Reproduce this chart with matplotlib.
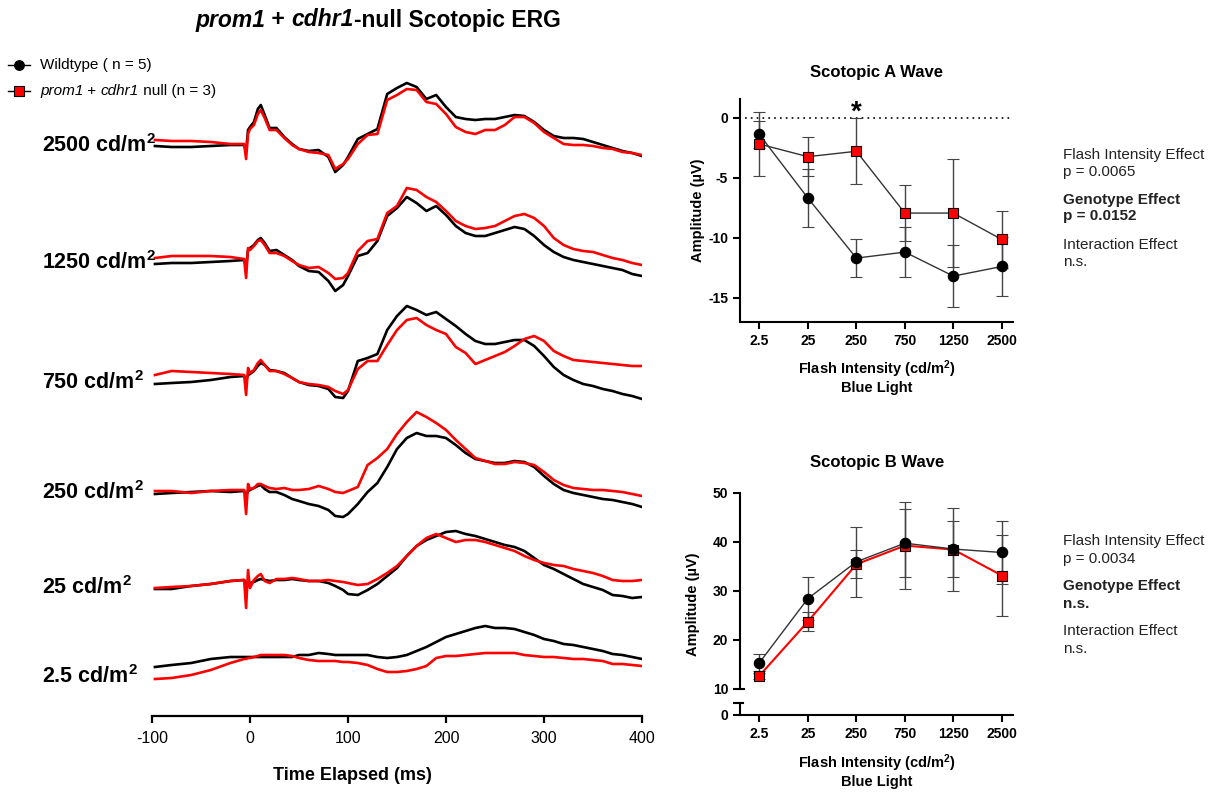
import numpy as np
import matplotlib.pyplot as plt
from matplotlib.lines import Line2D

plt.rcParams['font.family'] = ['Liberation Sans', 'DejaVu Sans']
plt.rcParams['mathtext.fontset'] = 'custom'
plt.rcParams['mathtext.rm'] = 'Liberation Sans'
plt.rcParams['mathtext.bf'] = 'Liberation Sans:bold'
plt.rcParams['mathtext.it'] = 'Liberation Sans:italic'
plt.rcParams['axes.unicode_minus'] = False

W, H = 1217, 792

# --- averaged scotopic ERG traces (time in ms, amplitude in a.u. rel. to baseline) ---
t_ms = [-97, -80, -60, -40, -20, -6, -4, -2, 0, 4, 8, 11, 15, 20, 27, 35, 43,
        50, 60, 70, 80, 87, 95, 100, 110, 120, 130, 140, 150, 160, 170, 180, 190,
        200, 210, 220, 230, 240, 250, 260, 270, 280, 290, 300, 310, 320, 330, 340,
        350, 360, 370, 380, 390, 400]

intensities = ['2500', '1250', '750', '250', '25', '2.5']
trace_offsets = [570, 453, 333, 223, 128, 50]
label_offsets = [570, 453, 333, 223, 128, 39]

wt_2500 = [0, -1, -1, 0, 1, 1, -5, 16, 19, 24, 37, 41, 31, 18, 18, 9, 2,
           -3, -5, -4, -11, -26, -19, -11, 7, 12, 17, 52, 58, 63, 59, 47, 51, 39, 29, 27,
           26, 27, 27, 29, 31, 30, 24, 16, 10, 8, 8, 7, 4, 1, -2, -5, -7, -10]
null_2500 = [6, 5, 5, 4, 2, 2, -13, 12, 17, 21, 32, 36, 28, 16, 16, 8, 1,
             -3, -6, -7, -9, -23, -18, -13, 2, 11, 12, 46, 51, 57, 56, 44, 42, 32, 19, 14,
             12, 16, 16, 21, 29, 29, 23, 14, 8, 2, 1, 1, 0, -2, -3, -6, -7, -9]
wt_1250 = [-1, 0, 0, 1, 2, 3, -4, 13, 15, 18, 23, 25, 20, 12, 13, 8, 3,
           -3, -8, -9, -18, -28, -22, -13, 7, 10, 22, 47, 55, 66, 60, 52, 57, 48, 37, 30,
           27, 27, 30, 33, 36, 34, 27, 18, 11, 6, 3, 1, -1, -3, -5, -7, -11, -13]
null_1250 = [5, 7, 7, 7, 6, 4, -15, 15, 13, 17, 22, 23, 18, 10, 10, 7, 2,
             -2, -5, -4, -10, -16, -15, -10, 12, 22, 24, 50, 57, 75, 73, 66, 61, 52, 42, 37,
             34, 35, 37, 42, 47, 49, 45, 37, 25, 18, 14, 12, 11, 8, 5, 3, 0, -2]
wt_750 = [-1, 0, 1, 3, 6, 7, 3, 8, 9, 12, 17, 20, 18, 13, 12, 10, 5,
          1, -2, -3, -6, -14, -15, -8, 22, 25, 29, 53, 67, 77, 73, 68, 71, 64, 57, 49,
          42, 39, 39, 41, 43, 43, 37, 27, 16, 8, 3, -1, -3, -6, -8, -11, -13, -16]
null_750 = [8, 12, 11, 10, 9, 8, -12, 15, 10, 13, 20, 23, 18, 12, 12, 9, 5,
            1, -1, -2, -4, -8, -11, -7, 14, 22, 22, 38, 53, 63, 65, 58, 53, 49, 36, 30,
            19, 23, 27, 31, 37, 44, 47, 42, 32, 27, 23, 22, 21, 20, 19, 18, 17, 17]
wt_250 = [-1, 0, 1, 2, 1, 2, -3, 2, 3, 5, 7, 8, 4, 1, 1, -2, -6,
          -8, -11, -13, -17, -23, -24, -21, -11, 1, 10, 26, 44, 55, 60, 57, 57, 55, 48, 40,
          34, 32, 30, 30, 32, 31, 26, 17, 9, 3, 0, -2, -4, -6, -7, -9, -11, -14]
null_250 = [2, 2, 0, 2, 3, 3, -21, 9, 4, 5, 9, 9, 7, 5, 4, 5, 3,
            3, 4, 7, 4, 1, 0, 2, 6, 28, 35, 44, 59, 71, 81, 76, 70, 63, 53, 44,
            35, 32, 29, 29, 31, 30, 28, 21, 13, 8, 5, 4, 3, 3, 2, 1, -1, -3]
wt_25 = [-1, -1, 2, 4, 7, 8, 4, 7, 5, 6, 8, 9, 8, 7, 8, 8, 9,
         8, 7, 7, 5, 2, -2, -6, -7, -2, 4, 12, 20, 32, 42, 48, 52, 56, 57, 54,
         52, 49, 46, 43, 41, 37, 30, 23, 19, 14, 9, 4, 1, -2, -7, -8, -10, -9]
null_25 = [0, 1, 2, 4, 7, 8, -20, 18, 0, 8, 12, 14, 7, 5, 9, 9, 10,
           9, 7, 7, 8, 7, 6, 5, 3, 4, 9, 15, 22, 32, 42, 50, 54, 50, 46, 48,
           48, 46, 43, 40, 37, 32, 28, 25, 23, 22, 19, 17, 15, 12, 8, 7, 7, 8]
wt_2_5 = [-1, 1, 3, 7, 9, 9, 9, 9, 9, 9, 9, 9, 9, 9, 9, 9, 9,
          11, 11, 13, 12, 11, 11, 11, 11, 11, 9, 8, 9, 11, 15, 19, 24, 29, 32, 35,
          38, 40, 38, 38, 37, 34, 31, 27, 25, 22, 21, 19, 17, 15, 12, 11, 9, 7]
null_2_5 = [-13, -12, -9, -4, 3, 7, 7, 8, 8, 9, 10, 11, 11, 11, 11, 11, 10,
            8, 6, 5, 5, 5, 4, 4, 3, 1, -3, -6, -6, -5, -3, 0, 8, 10, 10, 11,
            12, 13, 13, 13, 13, 11, 10, 9, 9, 8, 7, 7, 6, 5, 2, 2, 1, 0]

wt_traces = [wt_2500, wt_1250, wt_750, wt_250, wt_25, wt_2_5]
null_traces = [null_2500, null_1250, null_750, null_250, null_25, null_2_5]

# --- a- and b-wave amplitudes (mean +/- SEM) ---
flash_labels = ['2.5', '25', '250', '750', '1250', '2500']
a_wt = [-1.4, -6.7, -11.7, -11.2, -13.2, -12.4]
a_wt_sem = [1.15, 2.43, 1.6, 2.05, 2.57, 2.43]
a_null = [-2.2, -3.25, -2.8, -7.95, -7.95, -10.15]
a_null_sem = [2.65, 1.6, 2.75, 2.3, 4.5, 2.4]

b_wt = [15.3, 28.4, 35.9, 39.7, 38.5, 37.8]
b_wt_sem = [1.77, 4.4, 7.2, 7.0, 5.7, 6.5]
b_null = [12.65, 23.7, 35.4, 39.2, 38.4, 33.1]
b_null_sem = [0.6, 1.9, 2.9, 8.9, 8.5, 8.3]

a_stats = [('Flash Intensity Effect', 'normal'), ('p = 0.0065', 'normal'),
           ('Genotype Effect', 'bold'), ('p = 0.0152', 'bold'),
           ('Interaction Effect', 'normal'), ('n.s.', 'normal')]
b_stats = [('Flash Intensity Effect', 'normal'), ('p = 0.0034', 'normal'),
           ('Genotype Effect', 'bold'), ('n.s.', 'bold'),
           ('Interaction Effect', 'normal'), ('n.s.', 'normal')]

fig = plt.figure(figsize=(W / 100, H / 100), dpi=100)


def px_box(x0, y0, x1, y1):
    return [x0 / W, 1 - y1 / H, (x1 - x0) / W, (y1 - y0) / H]


def fx(x):
    return x / W


def fy(y):
    return 1 - y / H


def draw_runs(x_px, y_px, runs, ha='left', size=11):
    # lay out differently styled pieces of text one after another
    r = fig.canvas.get_renderer()
    texts = [fig.text(0, 0, s, va='center', size=size, **st) for s, st in runs]
    widths = [t.get_window_extent(r).width for t in texts]
    x = x_px - (sum(widths) / 2 if ha == 'center' else 0)
    for t, w in zip(texts, widths):
        t.set_position((fx(x), fy(y_px)))
        x += w


# ---------------- ERG traces ----------------
ax = fig.add_axes(px_box(152, 60, 642, 716))
t = np.array(t_ms)
for off, wt, nl in zip(trace_offsets, wt_traces, null_traces):
    ax.plot(t, off + np.array(wt), color='black', lw=1.9, solid_joinstyle='round')
    ax.plot(t, off + np.array(nl), color='#ff0000', lw=1.9, solid_joinstyle='round')
ax.set_xlim(-100, 400)
ax.set_ylim(0, 656)
for s in ['left', 'top', 'right']:
    ax.spines[s].set_visible(False)
ax.spines['bottom'].set_linewidth(1.6)
ax.set_yticks([])
ax.set_xticks([-100, 0, 100, 200, 300, 400])
ax.tick_params(axis='x', length=5, width=1.6, labelsize=11.5, pad=6)
fig.text(fx(352), fy(776), 'Time Elapsed (ms)', ha='center', va='center',
         size=13, fontweight='bold')

for lab, off in zip(intensities, label_offsets):
    fig.text(fx(42), fy(716 - off), lab + r' cd/m$^\mathbf{2}$', ha='left',
             va='center', size=15.5, fontweight='bold')

draw_runs(378, 20, [('prom1', dict(style='italic', weight='bold')),
                    (' + ', dict(weight='bold')),
                    ('cdhr1', dict(style='italic', weight='bold')),
                    ('-null Scotopic ERG', dict(weight='bold'))], ha='center', size=16.5)

# legend
for y, mk, fc in [(65, 'o', 'black'), (91, 's', '#ff0000')]:
    fig.add_artist(Line2D([fx(8), fx(19), fx(30)], [fy(y)] * 3, color='black', lw=1,
                          marker=mk, markevery=[1], markersize=7, markerfacecolor=fc,
                          markeredgecolor='black', markeredgewidth=0.8))
draw_runs(40, 65, [('Wildtype ( n = 5)', {})], size=11)
draw_runs(40, 91, [('prom1', dict(style='italic')), (' + ', {}),
                   ('cdhr1', dict(style='italic')), (' null (n = 3)', {})], size=11)


def style_axis(a):
    for s in ['top', 'right']:
        a.spines[s].set_visible(False)
    for s in ['left', 'bottom']:
        a.spines[s].set_linewidth(1.5)
    a.tick_params(length=5, width=1.5, labelsize=10)
    for lbl in a.get_xticklabels() + a.get_yticklabels():
        lbl.set_fontweight('bold')


def draw_series(a, x, y, e, marker, fc, line_color, lw):
    a.errorbar(x, y, yerr=e, color=line_color, lw=lw, ecolor='#444444',
               elinewidth=1, capsize=4, capthick=1, marker=marker, markersize=7.5,
               markerfacecolor=fc, markeredgecolor='black', markeredgewidth=0.8,
               clip_on=False, zorder=3)


xi = np.arange(len(flash_labels))

# ---------------- A wave ----------------
axa = fig.add_axes(px_box(740, 99.3, 1013, 321.7))
axa.axhline(0, color='black', lw=1.2, ls=(0, (1, 2.5)), xmin=0.02)
draw_series(axa, xi, a_wt, a_wt_sem, 'o', 'black', '#333333', 1)
draw_series(axa, xi, a_null, a_null_sem, 's', '#ff0000', '#333333', 1)
axa.set_xlim(-0.4, 5.23)
axa.set_ylim(-17, 1.53)
axa.set_yticks([0, -5, -10, -15])
axa.set_xticks(xi)
axa.set_xticklabels(flash_labels)
style_axis(axa)
axa.set_ylabel('Amplitude (µV)', fontweight='bold', size=10.5, labelpad=2)
axa.set_xlabel('Flash Intensity (cd/m$^\\mathbf{2}$)\nBlue Light', fontweight='bold',
               size=10.5, labelpad=8, linespacing=1.1)
axa.text(2, 0.45, '*', ha='center', va='center', size=20, fontweight='bold')
fig.text(fx(877), fy(72), 'Scotopic A Wave', ha='center', va='center', size=12,
         fontweight='bold')

for (txt, w), y in zip(a_stats, [155, 172, 200, 216, 245, 262]):
    fig.text(fx(1063), fy(y), txt, ha='left', va='center', size=11, fontweight=w,
             color='#222222')

# ---------------- B wave (broken y axis) ----------------
axb = fig.add_axes(px_box(740, 492.7, 1013, 688.7))
axb_low = fig.add_axes(px_box(740, 703.3, 1013, 715))
draw_series(axb, xi, b_null, b_null_sem, 's', '#ff0000', '#ff0000', 1.5)
draw_series(axb, xi, b_wt, b_wt_sem, 'o', 'black', '#333333', 1)
axb.set_xlim(-0.4, 5.23)
axb.set_ylim(10, 50)
axb.set_yticks([10, 20, 30, 40, 50])
axb.set_xticks([])
axb.spines['bottom'].set_visible(False)
style_axis(axb)
axb.plot([-0.4, -0.32], [10, 10], color='black', lw=1.5, clip_on=False)

axb_low.set_xlim(-0.4, 5.23)
axb_low.set_ylim(0, 2.39)
axb_low.set_yticks([0, 2.39])
axb_low.set_yticklabels(['0', ''])
axb_low.set_xticks(xi)
axb_low.set_xticklabels(flash_labels)
style_axis(axb_low)
axb_low.plot([-0.4, -0.33], [2.39, 2.39], color='black', lw=1.5, clip_on=False)
axb_low.set_xlabel('Flash Intensity (cd/m$^\\mathbf{2}$)\nBlue Light', fontweight='bold',
                   size=10.5, labelpad=8, linespacing=1.1)
fig.text(fx(693), fy(604), 'Amplitude (µV)', ha='center', va='center', rotation=90,
         size=10.5, fontweight='bold')
fig.text(fx(877), fy(463), 'Scotopic B Wave', ha='center', va='center', size=12,
         fontweight='bold')

for (txt, w), y in zip(b_stats, [541, 559, 586, 604, 631, 649]):
    fig.text(fx(1063), fy(y), txt, ha='left', va='center', size=11, fontweight=w,
             color='#222222')

fig.savefig('out.png', dpi=100, facecolor='white')
